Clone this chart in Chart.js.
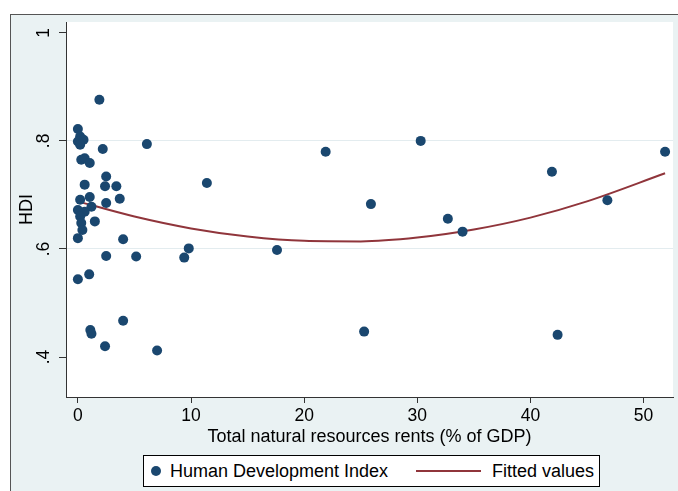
<!DOCTYPE html>
<html>
<head>
<meta charset="utf-8">
<script src="https://cdn.jsdelivr.net/npm/chart.js@4.4.1/dist/chart.umd.min.js"></script>
<style>
html,body{margin:0;padding:0;background:#fff;overflow:hidden;width:678px;height:491px;}
#frame{position:absolute;left:10px;top:14px;width:700px;height:500px;background:#eaf2f3;border-left:1px solid #555;border-top:1px solid #555;}
#wrap{position:absolute;left:0;top:0;width:678px;height:491px;}
#legend{position:absolute;left:143px;top:455px;width:457px;height:32px;box-sizing:border-box;background:#fff;border:1px solid #000;font-family:"Liberation Sans",Arial,sans-serif;font-size:18px;color:#000;}
#legend .it{position:absolute;top:0;height:30px;line-height:30px;white-space:nowrap;}
#legend .dot{position:absolute;width:10px;height:10px;border-radius:50%;top:10px;}
#legend .ln{position:absolute;height:2px;top:14px;}
</style>
</head>
<body>
<div id="frame"></div>
<div id="wrap"><canvas id="c" width="678" height="491"></canvas></div>
<div id="legend"></div>
<script>
// ---- data ----
const hdiX = [1.9, 0.0, 0.2, 0.5, 0.0, 0.2, 2.2, 0.3, 0.6, 1.05, 2.5, 0.6, 2.4, 3.4, 3.7, 1.05, 0.2, 2.5, 0.0, 1.2, 0.6, 0.2, 1.5, 0.3, 0.4, 0.0, 4.0, 2.5, 1.0, 0.0, 4.0, 1.1, 1.2, 2.4, 6.1, 11.4, 5.15, 9.8, 9.4, 7.0, 21.9, 30.3, 25.9, 32.7, 34.0, 46.8, 25.3, 42.4, 41.9, 51.9, 17.6];
const hdiY = [0.876, 0.822, 0.808, 0.802, 0.799, 0.793, 0.785, 0.765, 0.768, 0.759, 0.734, 0.719, 0.716, 0.716, 0.693, 0.696, 0.691, 0.685, 0.672, 0.678, 0.669, 0.660, 0.651, 0.648, 0.635, 0.620, 0.618, 0.587, 0.553, 0.544, 0.467, 0.450, 0.443, 0.420, 0.794, 0.722, 0.586, 0.601, 0.584, 0.412, 0.780, 0.800, 0.683, 0.656, 0.632, 0.690, 0.447, 0.441, 0.743, 0.780, 0.598];
const fitX = [0, 5, 10, 15, 20, 25, 30, 35, 40, 45, 51.9];
const fitY = [0.688, 0.660, 0.638, 0.623, 0.615, 0.614, 0.621, 0.636, 0.658, 0.688, 0.740];
const xTicks = [0, 10, 20, 30, 40, 50];
const yTicks = [0.4, 0.6, 0.8, 1];
const yTickLabels = ['.4', '.6', '.8', '1'];
const seriesNames = ['Human Development Index', 'Fitted values'];

const NAVY = '#1a476f', MAROON = '#90353b';
const FAMILY = '"Liberation Sans", Arial, sans-serif';
const TICKFONT = {family: FAMILY, size: 17.5};
const TITLEFONT = {family: FAMILY, size: 18};

const plotBg = {
  id: 'plotBg',
  beforeDraw(chart) {
    const {ctx, chartArea: a} = chart;
    ctx.save();
    ctx.fillStyle = '#ffffff';
    ctx.fillRect(a.left, a.top, a.right - a.left, a.bottom - a.top);
    ctx.restore();
  }
};

const chart = new Chart(document.getElementById('c'), {
  type: 'scatter',
  data: {
    datasets: [
      {
        label: seriesNames[0],
        data: hdiX.map((x, i) => ({x: x, y: hdiY[i]})),
        backgroundColor: NAVY,
        borderColor: NAVY,
        pointRadius: 5,
        pointBorderWidth: 0,
        clip: false
      },
      {
        label: seriesNames[1],
        data: fitX.map((x, i) => ({x: x, y: fitY[i]})),
        showLine: true,
        borderColor: MAROON,
        backgroundColor: MAROON,
        borderWidth: 2,
        pointRadius: 0,
        cubicInterpolationMode: 'monotone'
      }
    ]
  },
  options: {
    responsive: false,
    animation: false,
    devicePixelRatio: 1,
    layout: {padding: {top: 22, left: 0, right: 0, bottom: 34}},
    plugins: {legend: {display: false}, tooltip: {enabled: false}},
    scales: {
      x: {
        type: 'linear',
        min: -1.05,
        max: 52.6,
        afterBuildTicks: s => { s.ticks = xTicks.map(v => ({value: v})); },
        afterFit: s => { s.height = 60; },
        grid: {display: true, drawOnChartArea: false, drawTicks: true, tickLength: 6, tickColor: '#333', color: '#333'},
        border: {display: true, color: '#333', width: 1},
        ticks: {font: TICKFONT, color: '#000', padding: 3, maxRotation: 0, autoSkip: false, callback: v => String(v)},
        title: {display: true, text: 'Total natural resources rents (% of GDP)', font: TITLEFONT, color: '#000', padding: {top: 0, bottom: 9}}
      },
      y: {
        type: 'linear',
        min: 0.326,
        max: 1.02,
        afterBuildTicks: s => { s.ticks = yTicks.map(v => ({value: v})); },
        afterFit: s => { s.width = 66; },
        grid: {
          drawTicks: true,
          tickLength: 7,
          tickColor: '#333',
          lineWidth: 1,
          color: c => (c.tick && (Math.abs(c.tick.value - 0.6) < 1e-6 || Math.abs(c.tick.value - 0.8) < 1e-6)) ? '#e3ecef' : 'rgba(0,0,0,0)'
        },
        border: {display: true, color: '#333', width: 1},
        ticks: {font: TICKFONT, color: '#000', padding: 8, minRotation: 90, maxRotation: 90, crossAlign: 'center', autoSkip: false,
          callback: (v, i) => yTickLabels[i]},
        title: {display: true, text: 'HDI', font: TITLEFONT, color: '#000', padding: {top: 16, bottom: 0}}
      }
    }
  },
  plugins: [plotBg]
});

// HTML legend built from the chart's datasets
(function () {
  const lg = document.getElementById('legend');
  const ds = chart.data.datasets;
  const slots = [{mark: 7, text: 26}, {mark: 272, text: 348}];
  ds.forEach((d, i) => {
    const m = document.createElement('div');
    if (i === 0) { m.className = 'dot'; m.style.left = slots[i].mark + 'px'; m.style.background = d.backgroundColor; }
    else { m.className = 'ln'; m.style.left = slots[i].mark + 'px'; m.style.width = '65px'; m.style.background = d.borderColor; }
    lg.appendChild(m);
    const t = document.createElement('div');
    t.className = 'it';
    t.style.left = slots[i].text + 'px';
    t.textContent = d.label;
    lg.appendChild(t);
  });
})();
</script>
</body>
</html>
